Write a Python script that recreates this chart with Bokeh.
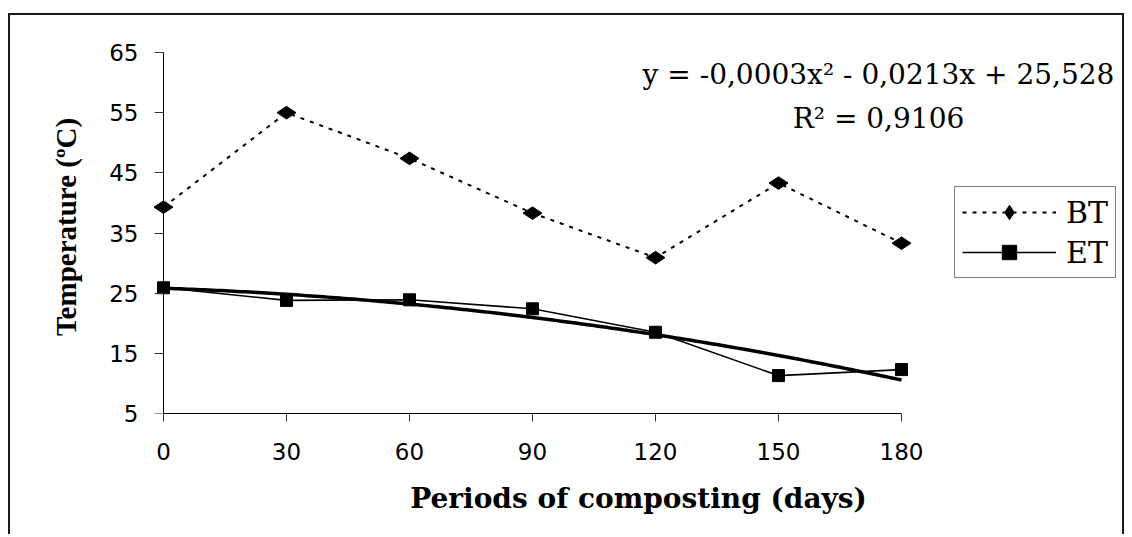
import numpy as np
from bokeh.plotting import figure
from bokeh.models import Range1d, Legend, LegendItem, Label, FixedTicker, LinearAxis
from bokeh.embed import file_html
from bokeh.resources import INLINE

# ---- data ----
days = [0, 30, 60, 90, 120, 150, 180]
bt = [39.3, 55.0, 47.4, 38.3, 30.9, 43.3, 33.3]
et = [25.9, 23.8, 23.9, 22.4, 18.5, 11.3, 12.3]
y_ticks = [5, 15, 25, 35, 45, 55, 65]
x_ticks = [0, 30, 60, 90, 120, 150, 180]
series_names = ["BT", "ET"]
equation_text = "y = -0,0003x² - 0,0213x + 25,528"
r2_text = "R² = 0,9106"
x_title = "Periods of composting (days)"
y_title = "Temperature (ºC)"

# layout (pixels): plot area 0..180 days spans 738 px, 5..65 spans 361 px
PX_PER_DAY = 738 / 180
PX_PER_DEG = 361 / 60
LEFT_PAD = 13      # room left of day 0 so edge markers are not clipped
RIGHT_EXTRA = 225  # room right of day 180 for legend / equation
TOP_PAD = 12

W, H = 1116, 521
p = figure(width=W, height=H, title=None,
           output_backend="svg", toolbar_location=None,
           x_range=Range1d(-LEFT_PAD / PX_PER_DAY, 180 + RIGHT_EXTRA / PX_PER_DAY),
           y_range=Range1d(5, 65 + TOP_PAD / PX_PER_DEG),
           min_border_left=140, min_border_right=0,
           min_border_top=25, min_border_bottom=123)
p.styles = {"margin-left": "8px", "margin-top": "13px",
            "border-top": "2px solid #1a1a1a",
            "border-left": "2px solid #1a1a1a",
            "border-right": "2px solid #1a1a1a"}
p.outline_line_color = None
p.grid.visible = False
p.background_fill_color = "white"
p.border_fill_color = "white"

# x axis
xa = p.xaxis[0]
xa.ticker = FixedTicker(ticks=x_ticks)
xa.bounds = (0, 180)
xa.axis_line_color = "black"
xa.major_tick_line_color = "#333333"
xa.major_tick_in = 0
xa.major_tick_out = 8
xa.minor_tick_line_color = None
xa.major_label_text_font = "DejaVu Sans"
xa.major_label_text_font_size = "23px"
xa.major_label_text_color = "black"
xa.major_label_standoff = 21
xa.axis_label = x_title
xa.axis_label_text_font = "DejaVu Serif"
xa.axis_label_text_font_size = "28px"
xa.axis_label_text_font_style = "bold"
xa.axis_label_text_color = "black"
xa.axis_label_standoff = 19

# y axis: labels in the left margin
ya = p.yaxis[0]
ya.ticker = FixedTicker(ticks=y_ticks)
ya.bounds = (5, 65)
ya.axis_line_color = None
ya.major_tick_line_color = None
ya.major_tick_in = 0
ya.major_tick_out = 0
ya.minor_tick_line_color = None
ya.major_label_text_font = "DejaVu Sans"
ya.major_label_text_font_size = "23px"
ya.major_label_text_color = "black"
ya.major_label_standoff = 12
ya.axis_label = y_title
ya.axis_label_text_font = "Liberation Serif"
ya.axis_label_text_font_size = "29px"
ya.axis_label_text_font_style = "bold"
ya.axis_label_text_color = "black"
ya.axis_label_standoff = 24

# y axis line + ticks at day 0
ya2 = LinearAxis(ticker=FixedTicker(ticks=y_ticks), bounds=(5, 65), fixed_location=0,
                 axis_line_color="black", major_tick_line_color="#333333",
                 major_tick_in=0, major_tick_out=9, minor_tick_line_color=None,
                 major_label_text_alpha=0, major_label_text_font_size="23px")
p.add_layout(ya2, "left")

# polynomial trend of ET (order 2)
coef = np.polyfit(days, et, 2)
xs = np.linspace(days[0], days[-1], 181)
p.line(xs, np.polyval(coef, xs), line_color="black", line_width=3.5)

# series
bt_line = p.line(days, bt, line_color="black", line_width=2, line_dash="4 6")
bt_pts = p.scatter(days, bt, marker="diamond", size=19, angle=np.pi / 2,
                   fill_color="black", line_color="black")
et_line = p.line(days, et, line_color="black", line_width=1.6)
et_pts = p.scatter(days, et, marker="square", size=12,
                   fill_color="black", line_color="black")

legend = Legend(items=[LegendItem(label=series_names[0], renderers=[bt_line, bt_pts]),
                       LegendItem(label=series_names[1], renderers=[et_line, et_pts])],
                location=(804, 135), margin=0, padding=7, spacing=4,
                glyph_width=94, glyph_height=36, label_standoff=10,
                label_text_font="DejaVu Serif", label_text_font_size="30px",
                label_text_color="black",
                border_line_color="black", border_line_width=1,
                background_fill_color="white", background_fill_alpha=1)
p.add_layout(legend)

# regression annotation
p.add_layout(Label(x=728, y=339, x_units="screen", y_units="screen",
                   text=equation_text, text_align="center", text_baseline="middle",
                   text_font="DejaVu Serif", text_font_size="28px", text_color="black"))
p.add_layout(Label(x=728, y=295, x_units="screen", y_units="screen",
                   text=r2_text, text_align="center", text_baseline="middle",
                   text_font="DejaVu Serif", text_font_size="28px", text_color="black"))

open("out.html", "w").write(file_html(p, INLINE))
